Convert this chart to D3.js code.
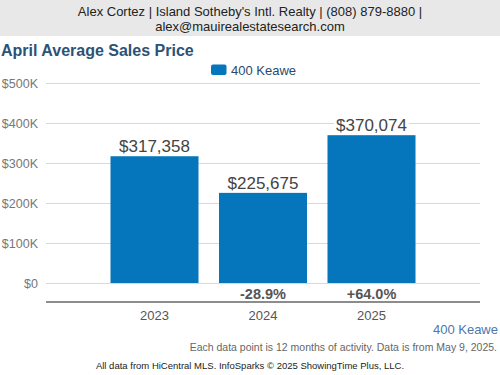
<!DOCTYPE html>
<html>
<head>
<meta charset="utf-8">
<script src="https://cdn.jsdelivr.net/npm/d3@7"></script>
<style>
  body { margin: 0; background: #fff; }
  svg text { font-family: "Liberation Sans", Arial, sans-serif; }
</style>
</head>
<body>
<div id="chart"></div>
<script>
var years = ["2023", "2024", "2025"];
var prices = [317358, 225675, 370074];
var changes = [null, "-28.9%", "+64.0%"];
var yTicks = [0, 100000, 200000, 300000, 400000, 500000];
var seriesName = "400 Keawe";

var W = 500, H = 375;
var svg = d3.select("#chart").append("svg")
    .attr("width", W)
    .attr("height", H);

// header band
svg.append("rect").attr("x", 0).attr("y", 0).attr("width", W).attr("height", 36)
    .attr("fill", "#e8e8e8");
svg.append("text").attr("x", 250).attr("y", 16).attr("text-anchor", "middle")
    .attr("font-size", 13).attr("fill", "#222")
    .text("Alex Cortez | Island Sotheby's Intl. Realty | (808) 879-8880 |");
svg.append("text").attr("x", 250).attr("y", 31).attr("text-anchor", "middle")
    .attr("font-size", 13).attr("fill", "#222")
    .text("alex@mauirealestatesearch.com");

// title
svg.append("text").attr("x", 1).attr("y", 56)
    .attr("font-size", 16).attr("font-weight", "bold").attr("fill", "#2b5278")
    .text("April Average Sales Price");

// legend
svg.append("rect").attr("x", 211).attr("y", 64.5).attr("width", 15.5).attr("height", 10.5)
    .attr("rx", 2).attr("fill", "#0575bc");
svg.append("text").attr("x", 231).attr("y", 74.5)
    .attr("font-size", 13).attr("fill", "#2b4a6b")
    .text(seriesName);

var left = 46, right = 480;
var x = d3.scalePoint().domain(years).range([left, right]).padding(1);
var y = d3.scaleLinear().domain([0, 500000]).range([283, 83.3]);
var barW = 88;

// gridlines
svg.append("g").selectAll("line").data(yTicks).enter().append("line")
    .attr("x1", left).attr("x2", right)
    .attr("y1", function (d) { return Math.round(y(d)) + 0.5; })
    .attr("y2", function (d) { return Math.round(y(d)) + 0.5; })
    .attr("stroke", "#d9d9d9").attr("stroke-width", 1);

// y labels
svg.append("g").selectAll("text").data(yTicks).enter().append("text")
    .attr("x", 38).attr("y", function (d) { return y(d) + 5; })
    .attr("text-anchor", "end").attr("font-size", 12.5).attr("fill", "#777")
    .text(function (d) { return d === 0 ? "$0" : "$" + (d / 1000) + "K"; });

// bars
svg.append("g").selectAll("rect").data(prices).enter().append("rect")
    .attr("x", function (d, i) { return x(years[i]) - barW / 2; })
    .attr("y", function (d) { return y(d); })
    .attr("width", barW)
    .attr("height", function (d) { return y(0) - y(d); })
    .attr("fill", "#0575bc");

// value labels with white backing
var fmt = d3.format("$,");
var vl = svg.append("g").selectAll("g").data(prices).enter().append("g");
vl.append("text")
    .attr("x", function (d, i) { return x(years[i]); })
    .attr("y", function (d) { return y(d) - 4; })
    .attr("text-anchor", "middle").attr("font-size", 17).attr("fill", "#444")
    .text(function (d) { return fmt(d); })
    .each(function () {
        var b = this.getBBox();
        d3.select(this.parentNode).insert("rect", "text")
            .attr("x", b.x - 2).attr("y", b.y + 2).attr("width", b.width + 4).attr("height", b.height - 3)
            .attr("fill", "#fff");
    });

// axis line
svg.append("line").attr("x1", left).attr("x2", right).attr("y1", 302).attr("y2", 302)
    .attr("stroke", "#666").attr("stroke-width", 1.5);

// change labels
svg.append("g").selectAll("text").data(changes).enter().append("text")
    .filter(function (d) { return d !== null; })
    .attr("x", function (d) { return x(years[changes.indexOf(d)]); })
    .attr("y", 299)
    .attr("text-anchor", "middle").attr("font-size", 14.5).attr("font-weight", "bold").attr("fill", "#555")
    .text(function (d) { return d; });

// year labels
svg.append("g").selectAll("text").data(years).enter().append("text")
    .attr("x", function (d) { return x(d); })
    .attr("y", 319.5)
    .attr("text-anchor", "middle").attr("font-size", 13).attr("fill", "#555")
    .text(function (d) { return d; });

// footer
svg.append("text").attr("x", 498).attr("y", 334).attr("text-anchor", "end")
    .attr("font-size", 13).attr("fill", "#4a78ad").text(seriesName);
svg.append("text").attr("x", 497).attr("y", 351).attr("text-anchor", "end")
    .attr("font-size", 10.5).attr("fill", "#666")
    .text("Each data point is 12 months of activity. Data is from May 9, 2025.");
svg.append("text").attr("x", 250).attr("y", 369).attr("text-anchor", "middle")
    .attr("font-size", 9.5).attr("fill", "#222")
    .text("All data from HiCentral MLS. InfoSparks \u00a9 2025 ShowingTime Plus, LLC.");
</script>
</body>
</html>
